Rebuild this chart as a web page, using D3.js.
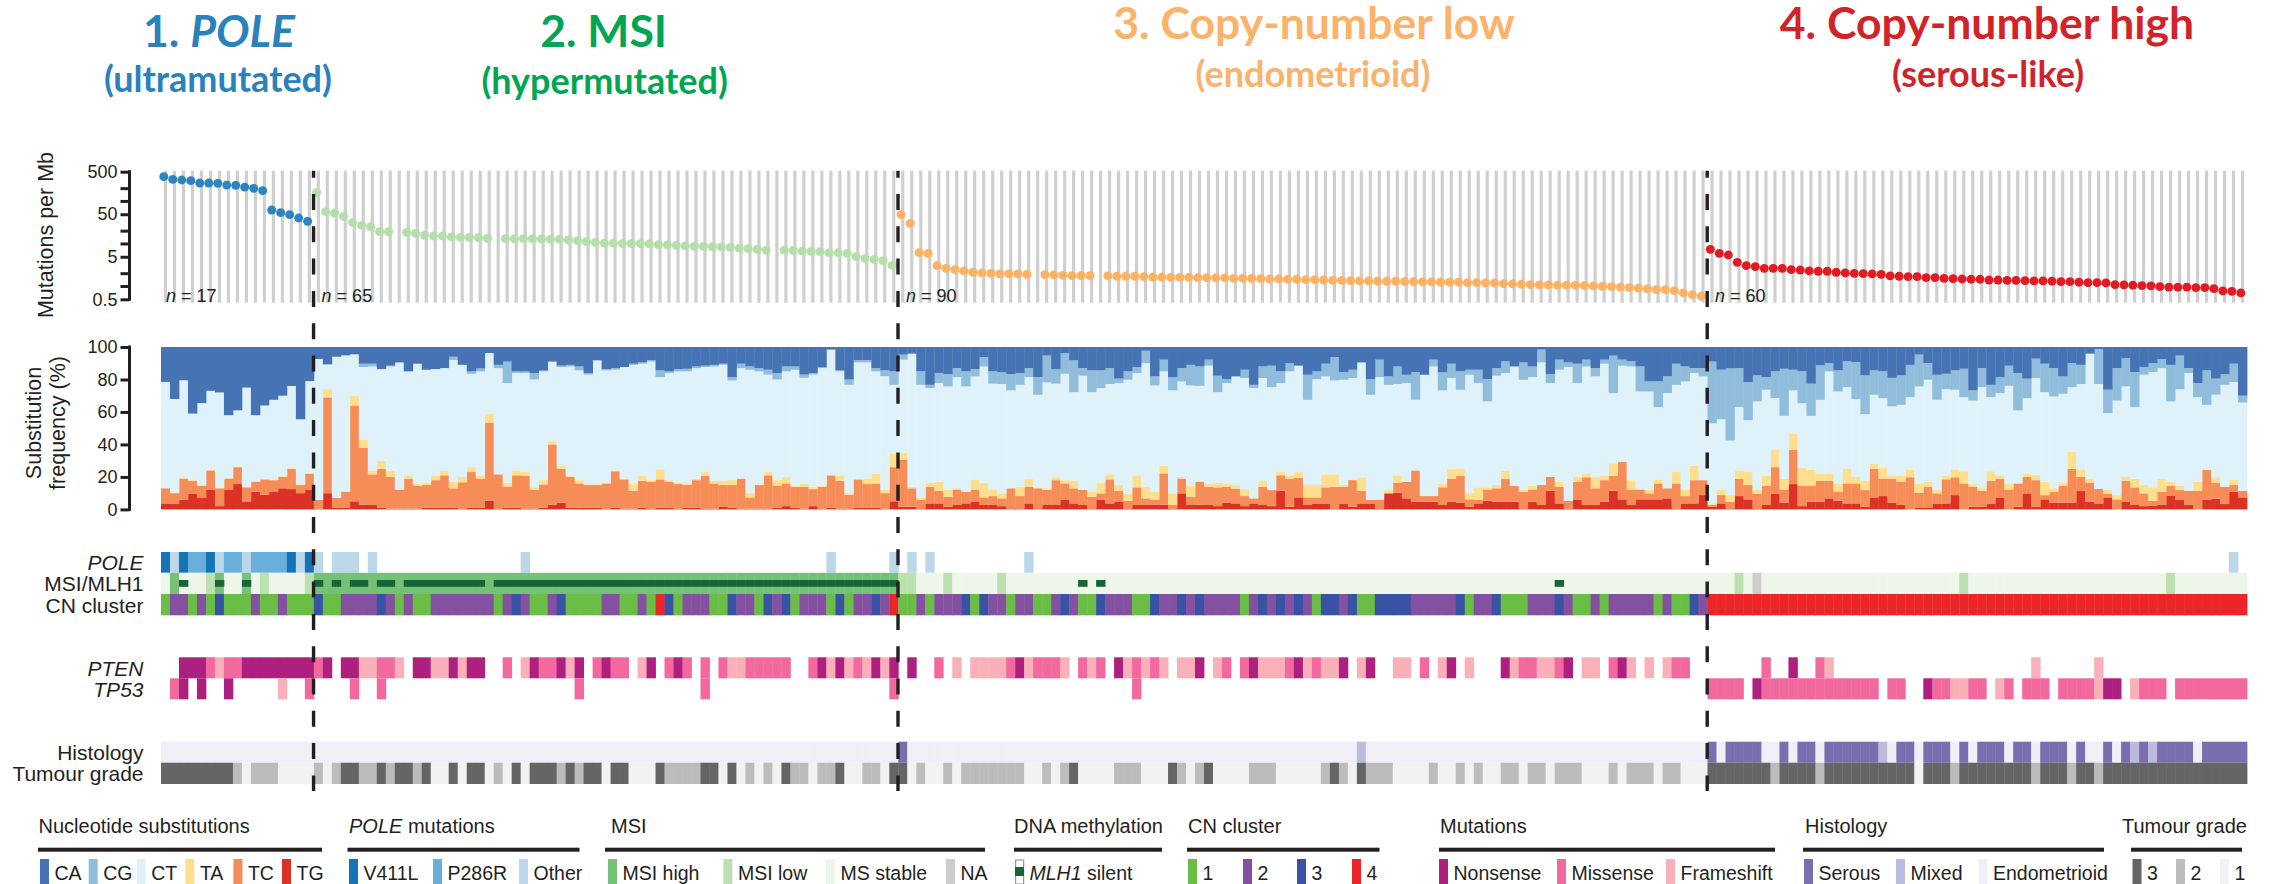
<!DOCTYPE html>
<html><head><meta charset="utf-8">
<script src="https://d3js.org/d3.v7.min.js"></script>
<style>html,body{margin:0;padding:0;background:#fff}svg{display:block}text{font-family:"Liberation Sans",Arial,sans-serif;fill:#231f20}</style>
</head><body><svg id="c" width="2274" height="884"></svg>
<script>
// ---------- data ----------
const groupNames=[["1. ","POLE"],["2. MSI",""],["3. Copy-number low",""],["4. Copy-number high",""]];
const groupSubs=["(ultramutated)","(hypermutated)","(endometrioid)","(serous-like)"];
const groupSizes=[17,65,90,60];
const mutPole=[381,330,319,307,271,271,266,243,239,218,203,179,62.8,54.4,48.9,40.8,34];
const mutMsi=[163.4,57.4,53.4,44.6,31.7,27.4,25.5,19.4,19.4,null,18.8,17.8,16,15.4,15.4,14.6,14.3,14.3,14.1,13.6,null,13.3,13.3,13.3,13.1,13.1,12.9,12.9,12.4,12,11.3,10.9,10.5,10.4,10.2,10.2,10.2,10,9.6,9.5,9.3,9,8.8,8.8,8.6,8.5,8.3,8,7.8,7.5,7.2,null,7.2,7.1,6.8,6.7,6.6,6.25,6.25,6,5.03,4.6,4.35,4.05,3.15];
const mutLow=[48.9,30.5,6.25,6,3.09,2.67,2.49,2.32,2.16,2.08,2.04,1.97,1.97,1.97,1.93,null,1.9,1.87,1.83,1.8,1.8,1.8,null,1.77,1.74,1.74,1.74,1.71,1.67,1.67,1.64,1.64,1.64,1.62,1.62,1.59,1.59,1.56,1.56,1.56,1.53,1.5,1.5,1.48,1.48,1.45,1.45,1.42,1.4,1.4,1.37,1.35,1.35,1.33,1.33,1.33,1.3,1.3,1.28,1.28,1.26,1.26,1.26,1.23,1.23,1.21,1.21,1.17,1.15,1.13,1.11,1.09,1.09,1.07,1.07,1.07,1.05,1.03,1.01,.99,.97,.94,.91,.875,.84,.84,.8,.705,.64,.59];
const mutHigh=[7.5,6,5.5,3.7,3.09,2.93,2.67,2.67,2.67,2.49,2.44,2.32,2.28,2.28,2.16,2.08,2.04,2,1.97,1.93,1.77,1.74,1.71,1.71,1.62,1.62,1.56,1.53,1.5,1.48,1.48,1.42,1.42,1.4,1.4,1.37,1.35,1.35,1.33,1.3,1.3,1.26,1.23,1.23,1.21,1.11,1.09,1.07,1.05,1.03,.99,.97,.97,.97,.94,.94,.89,.785,.77,.705];
// cumulative tops of the substitution stack, per sample, in percent
const topTG=[3.7,3.3,6,9.5,7,12,2,12,15.6,4.7,11,9,11,13,12.5,10,12,
.5,10,1,1,5,3,2.7,1,.5,.5,.5,.5,1,1,1,1,.5,1,1,5.5,.5,1,1,.5,.5,1,3,4,1,1,1,1,.5,1,.5,.5,1,.5,1,1,.5,1,1,.5,.5,1.5,1,.5,.5,.5,.5,1,2,1,.5,2,.5,1,.5,.5,1,1,1,.5,5,
1.6,1.6,.6,3.7,3.7,1.6,2.7,3.7,4.7,2.7,2.7,2,.6,.6,3.7,.6,2.7,2.7,5.8,3.7,2.7,.6,5.8,3.7,4.7,.6,2.7,2.7,3,3,.6,9.9,2.7,3,2.7,2,4,3.7,2,3.7,2.7,2,11.5,1.6,7.4,2.7,3.7,3.7,.6,3.3,1.6,3.7,3.7,.6,9.5,10.3,6.8,4.7,4.7,4.7,2.7,4.7,4,1.6,3.7,5.3,4.7,4.7,4.7,.6,4.7,2.7,11.5,3.7,.6,5.8,2.7,2.7,4.7,11.5,6.2,2.7,6.2,6.2,6.2,6.8,.6,3.7,3.7,8.8,
1.6,3.7,.6,8.2,6.2,.6,2.7,9.5,4,15.6,2,4.7,4.7,6.8,5.3,3.7,3.7,1.6,7.4,8.2,4,2.7,0,1.2,1.2,3.3,3.7,8.8,0,1.6,1.6,3.3,7.4,0,1.6,9.9,1.6,6.2,4,4,4,11.3,4.7,3.7,7.4,0,4.7,2.7,2,2.3,2.7,8.6,5.8,2.7,0,5.8,6.6,3.3,10.9,7.4];
const topTC=[13,10,19,17.7,14.6,24,13,19,26,13.6,17,18.5,18,20,25,15,22,
5.8,69,7,11,64,38,21.6,25,20,12,19,14.6,15,18,21,13,16.7,23,19,53.5,21.6,14,21,20.6,12,15.4,40,25,20,16,15,15,16,23.5,18.5,11.5,17.7,17,18.5,17,15.6,15,18,20.6,16,15,15,19,7.4,15,21,14.6,16,14,14,12.5,14,21,17.7,9,18.5,15.6,16,10,26,
30.5,13,6,14,11.5,7.8,12.3,10.9,12,7.4,8.2,6.8,13,8.2,14,13,12,18,16,13,12,7.8,9.9,18.5,11.5,5.3,13.6,6.8,5.8,22.2,2.7,19,7.8,17,14,13.6,14,12.7,8.2,6.8,14,11.9,21,19,19.5,7.4,7.4,13.6,14,14,18,11.5,6,6,10.3,16.5,17,24,8.2,8.2,13.6,19,20.6,6.2,6,12.3,13,19,14.4,10.9,12.3,15,20,14,5.3,17,19.8,13,18,20.6,29.4,12.3,12.3,9.9,16,13,16,8.2,18,18,
2.7,8.8,4.7,18.7,15,9.5,14.6,26,12.3,36.6,14.6,14.6,17.7,17.7,10.9,16,16,11.9,25,19,19,17,19.8,10.3,14,9.9,18.5,19.8,16,14,11.5,17.7,19,12.3,16,20,18,8.8,10.9,14.6,25,20,16.5,12.6,9.5,6.2,17.7,13.6,9.9,5.3,10.9,14.6,11.9,11.5,11.5,24.3,16.5,14,15,11.5];
const topTA=[13.5,10.5,19.5,18,15,24.5,13.5,19.5,26.5,14,17.5,19,18.5,20.5,25.5,15.5,22.5,
5.8,74,7,11,70,43,24,30,24,12.5,21,16,16.5,20.6,23.7,17,20,26,21,59,21.6,16.5,24,23,13.6,18,42,27,21,18,15.5,15.5,16.7,24,19,15.6,20.6,18,24.7,18,16.5,16,19,23,17.7,17.7,18,19,10,15.5,23,18,20,14.5,16,14,14.5,21,21,10,18.5,19,22,12,34.5,
35,14,7.4,16.5,17,12,13,10.9,18.5,16.5,12,9.5,13,14,19,13.6,13,19.8,18,17.7,12,10.9,16.5,21.6,15,9.9,21,14,10.9,27,9.9,20,14.6,17.7,16,16.5,16,15,12.5,6.8,17.7,11.9,23,21,23,15,15,21.6,21.6,15,18.5,19.8,6,6,12,21,17,24,8.2,8.2,16,25,25,10.3,13.6,13.6,15,23.7,14.4,12,14.4,15,20,17,5.3,20,22.2,20,21,28.4,29.4,18,12.3,12.3,18.5,13,23,12,27,18,
3.7,12.3,8.8,24,23,12.3,20.6,37,19,46.5,25.7,24.3,22.2,22.2,16,25,20,17.7,28,25.7,21,20.6,24.3,15.6,17,12.3,20.6,24.7,23.5,15.6,13,23.5,21,16,16,21.8,21.4,17,13,16.7,35.6,24.7,19,12.6,12.3,8.8,20,18.9,15,13.6,18.7,17,14.6,11.5,17,24.3,19.8,14,18.5,11.5];
const topCT=[78.5,68,79.5,59,65.5,73,72,58,61,75,58,64,67.5,70,76,55.5,79,
92.6,89,94,94.6,95.5,87.7,88,86.4,88,90.5,85,89.7,86,86.4,87,92,89,83.5,85,96.3,87,77.8,84,84,80,85,91,87.7,88,85.6,83,91.8,85.6,86,87.7,89,89.7,91,81.5,84,85,85,87,87.7,88,89,79.4,87,86,85,83,80,85,86,81,83,87,98.4,85,76.7,90.5,90.5,85,82,76.7,
92.2,95.9,76.7,74.7,77.8,75.7,81.5,75.7,81.9,88,77.4,77.2,73.3,76.7,81.5,70.6,78.2,77.4,83.5,72.2,82.3,72.2,74.7,77.2,77.8,79.8,84,90,76.3,85,73.3,78.8,76.3,76.1,88.5,72.2,77.8,81.9,80.9,74.7,80.9,75.3,77.8,85,88.5,67.5,80.2,81.9,79.4,79.8,80.9,90.5,70.6,81.5,76.7,77.2,77.8,67.5,82.9,88,73.3,80.9,73.7,82.9,77.8,66.5,82.3,84,88,79.8,81.5,90.5,77.8,86,87.7,77.8,88,81.9,89.7,71.6,88.5,88,72.6,72.6,63,71.6,76.7,78.8,84,81.9,
53,55.5,42.4,63,55,66.5,73.7,68.5,57.6,73.3,65.4,57.6,67.5,85,72.6,75.3,67.9,58.6,70.6,68.5,63.4,64.4,69.1,75.7,79.8,67.5,74,73.7,69.1,67,75.3,69.1,71.6,76.1,60.9,68.5,80.9,72.2,69.5,71.2,75.3,77.2,95.9,77.2,59.3,67,75.7,63,82.9,84.6,87,66.5,74,84,69.1,64.4,70.6,76.7,78.4,65.8];
const topCG=[78.5,68,79.5,59,65.5,73,72,58,61,75,58,64,67.5,70,76,55.5,79,
92.6,89.5,94,95,95.5,89.7,89.7,86.4,88.5,90.5,85,89.7,86,86.4,87,94,89,85,86.8,96.3,89,91,85,85,84,85.5,91,88.5,89,88,84,91.8,86.4,87,87.7,89.7,90.5,92,85.6,85,86.4,86.6,88,88.5,89,89.7,81.5,89.7,88,87,86,84,88,88,83,84,87.5,98.4,85.6,80,92,92,87,85.6,85,
95.3,95.9,85,76.7,84,83.3,87,85,86.4,93.8,85,84.4,83.3,84,87,81.5,94.7,86.4,96.3,91.8,87,85.6,85.6,87,80.5,85,87.7,97.7,81.9,92.2,81.3,87,89,88,92.2,82.3,80.2,81.9,86,76.7,88,88.5,85,90.1,88.5,82.9,85,89.7,93.8,84.6,86,90.5,80.2,92.2,81.9,88,82.9,84.6,82.9,92.2,84.4,89.7,85,86,86,80.2,87,91.2,88,90.5,88,98.4,83.3,92.2,90.5,89.7,92.2,87,92.2,94.7,92.2,91.2,88,78.8,78.8,81.9,89.7,88,87,87,
91,86,86.8,87,78.4,82.5,81.5,85,86.6,86,85,77.4,88.7,90.1,85.6,91.2,90.7,82.5,85.6,85,81,82.5,89,95.3,90.1,82.9,83.5,85.6,86.6,73.3,87,76.7,81.5,88.5,84,80.5,92.8,89.7,87,81.9,90.1,89,95.9,98.8,73.7,87,93.2,84.6,87.7,90.1,92.6,89,94.7,87,77.8,85.6,80.5,83.3,89.7,70];
// per-sample category rows, run-length coded (code, or code*count); "-" is no call
const rowPole="V O V P*2 V O P*2 O P*4 V O V O - O*3 - O -*16 O -*33 O -*6 O - O - O -*10 O -*133 O -";
const rowMsi="S H S*3 L H S*2 H S L S*4 L H*65 L*2 S*3 L S*5 L S*81 L S N S*22 L S*22 L S*8";
const rowMlh1="-*2 M -*3 M -*2 M -*7 M - M -  M*2 - M*2 - M*9 - M*45 -*20 M - M -*50 M -*76";
const rowCn="1 2*2 1 2 1 3 1*3 2 1*2 2 1*3 3 1*2 2*4 3 2 1 2 1*2 2*7 1 2 3 2 1*2 2 3 1*4 2*2 1*2 2 1 4 3 1 2*3 1*2 3 2*2 1 3 2 3 1 2*3 1 3 1 2*2 3 2 4 1*2 2 1 2*3 3 1 3 2*2 1 2*2 1*2 2 3 2 1*2 3 2*3 1*2 3 2*2 3 2 3 2*4 1 2 3 2 3 2 3 2 1 3*2 2 3 1*2 3*4 2*5 3 1 2*2 3 1*3 2*3 3 2 1*2 2 1 2*5 1 2 1*2 3 2 4*60";
const rowPten="-*2 N*3 M F M*2 N*8 M N - N*2 F*2 M*2 F - N*2 F*2 N F N*2 -*2 M - F N M*2 N F N - M N M*2 - F N - M N M - M - M F*2 M*5 -*2 M N F N F M F N F N - N -*2 M - F - F*4 M N F M*3 F - M F M - N F M F M F - F*2 N - F M - M N F*3 M N F M F*2 N - F N -*2 F*2 - M - F N - F -*3 N F M*2 F*2 M N - F*2 - M N F - F - F M*2 -*2 -*6 M -*2 N -*2 M F -*22 F -*6 F -*16";
const rowTp53="- M N - N -*2 N -*5 F -*2 M -*4 M -*2 M -*21 M -*13 M -*20 M -*26 M -*63 M*4 - N M*13 - M*2 -*2 N M*2 F*2 M*2 - F M - M*3 - M*4 F N*2 - F M*3 - M*8";
const rowHistology="E*82 S E*50 X E*38 S E S*4 E*2 S E S*2 E S*6 X E S*2 E S*3 E S E S*3 E S*2 E S*3 E S E*2 S E S X S X S*4 E S*5";
const rowGrade="3*8 2 1 2*3 1*4 2 1 2 3*2 2*2 3 2 3*2 2 3 1*2 3 1 3*2 1 2 1 3 1 3*3 2 3 2 3*2 1 3*2 1*3 3 2*4 3*2 1 3 1 2 1 2 1 3 2*2 1 2*2 3 1*2 2*2 1 3 3 1 2 1*2 2 1 2*7 1*2 2 1 2 3 1*4 2*3 1*3 3 2 1 2 3 1*4 2*3 1*5 2 3 2 1 3 2*3 1*4 2 1*2 2 1 2 1*2 2*2 1 2*2 1 2*3 1*3 2 1 2*3 1 2*2 1*3 3*7 2 3*4 2 3*10 1 3*3 2 3*8 2 3*3 2 3*2 2 3*16";
const axisTicksMut=[500,50,5,0.5];
const axisMinorMut=[200,100,20,10,2,1];
const axisTicksSub=[0,20,40,60,80,100];
const rowLabels=["POLE","MSI/MLH1","CN cluster","PTEN","TP53","Histology","Tumour grade"];
const legendTitles=["Nucleotide substitutions","POLE mutations","MSI","DNA methylation","CN cluster","Mutations","Histology","Tumour grade"];
const legendItems=[["CA","CG","CT","TA","TC","TG"],["V411L","P286R","Other"],["MSI high","MSI low","MS stable","NA"],["MLH1 silent"],["1","2","3","4"],["Nonsense","Missense","Frameshift"],["Serous","Mixed","Endometrioid"],["3","2","1"]];

// ---------- styles & layout ----------
const nSamples=d3.sum(groupSizes);
const groupStart=d3.cumsum([0,...groupSizes]);
const groupColor=["#2c85bf","#b4dfaa","#fdb163","#e21b22"];
const titleColor=["#2a82bd","#00a651","#fbb26a","#d2232a"];
const stackColor={TG:"#dc3125",TC:"#f68d59",TA:"#fddf8e",CT:"#dff2f9",CG:"#90bddb",CA:"#4673b3"};
const poleColor={V:"#1673b8",P:"#6aaedb",O:"#bcd7ea"};
const msiColor={H:"#75c178",L:"#bde0b0",S:"#eef6ea",N:"#cecdcb"};
const cnColor={1:"#6abd45",2:"#83519f",3:"#3953a4",4:"#ec2628"};
const mutColor={N:"#ae2080",M:"#f1699f",F:"#f9b0b8"};
const histColor={S:"#786eb0",X:"#bbbbdd",E:"#f0eff8"};
const gradeColor={3:"#656565",2:"#bcbcbc",1:"#f2f2f2"};
const legendColors=[[stackColor.CA,stackColor.CG,stackColor.CT,stackColor.TA,stackColor.TC,stackColor.TG],[poleColor.V,poleColor.P,poleColor.O],[msiColor.H,msiColor.L,msiColor.S,msiColor.N],[null],[cnColor[1],cnColor[2],cnColor[3],cnColor[4]],[mutColor.N,mutColor.M,mutColor.F],[histColor.S,histColor.X,histColor.E],[gradeColor[3],gradeColor[2],gradeColor[1]]];
const legendRule=[[38,322],[347.5,579.5],[605,985],[1014,1162],[1187,1379.5],[1439,1775],[1803,2104],[2131,2242]];
const legendTitleX=[38.5,349,611,1014,1188,1440,1805,2122];
const legendSwatch=[[40,88.7,136.7,185.4,233.4,282],[349,433,519],[608,723.4,826,946],[1015],[1188,1243,1297,1352],[1439,1557,1666],[1804,1896,1978.5],[2132.5,2176,2220]];
const FS=18;

const svg=d3.select("#c");
const x=d3.scaleBand().domain(d3.range(nSamples)).range([161,2247]);
const step=x.step();
const yMut=d3.scaleLog().domain([0.5,500]).range([299.3,171.7]);
const ySub=d3.scaleLinear().domain([0,100]).range([509.4,347]);
const expand=s=>s.trim().split(/\s+/).flatMap(t=>{const [c,n]=t.split("*");return d3.range(+(n||1)).map(()=>c)});

// titles
const titleCx=[219,603.6,1314,1987], titleY=[46.5,46.5,39,39];
const subCx=[218,604.6,1313,1988], subY=[91.5,94,87,87];
groupNames.forEach((g,i)=>{
  const t=svg.append("text").attr("x",titleCx[i]).attr("y",titleY[i]).attr("text-anchor","middle")
    .style("font-family","Lato").style("font-weight",700).style("font-size","44.5px").style("fill",titleColor[i]);
  t.append("tspan").text(g[0]);
  if(g[1]) t.append("tspan").style("font-style","italic").text(g[1]);
  svg.append("text").attr("x",subCx[i]).attr("y",subY[i]).attr("text-anchor","middle")
    .style("font-family","Lato").style("font-weight",700).style("font-size","36px").style("fill",titleColor[i]).text(groupSubs[i]);
});

// stripes
svg.append("g").selectAll("rect").data(d3.range(nSamples)).join("rect")
  .attr("x",i=>x(i)+step/2-1.6).attr("width",3.2).attr("y",170.7).attr("height",132).attr("fill","#cfcfcf");

// dots
[mutPole,mutMsi,mutLow,mutHigh].forEach((arr,g)=>{
  svg.append("g").selectAll("ellipse").data(arr.map((v,k)=>({v,i:groupStart[g]+k})).filter(d=>d.v!=null)).join("ellipse")
    .attr("cx",d=>x(d.i)+step/2-1.7).attr("cy",d=>yMut(d.v)).attr("rx",4.5).attr("ry",4.4).attr("fill",groupColor[g]);
});

// axes
function axis(scale,major,minor,fmt){
  const g=svg.append("g").attr("transform","translate(129.5,0)");
  const ax=d3.axisLeft(scale).tickValues(major).tickFormat(fmt).tickSize(9).tickPadding(3);
  g.call(ax);
  g.selectAll("text").style("font-size",FS+"px").style("fill","#231f20");
  g.selectAll("path,line").attr("stroke","#231f20").attr("stroke-width",3);
  g.select(".domain").attr("d",`M0,${scale.range()[0]+1.5}V${scale.range()[1]-1.5}`);
  g.selectAll(".minor").data(minor).join("line").attr("class","minor")
    .attr("x1",-9).attr("x2",0).attr("y1",scale).attr("y2",scale).attr("stroke","#231f20").attr("stroke-width",3);
  g.attr("font-family",null);
}
axis(yMut,axisTicksMut,axisMinorMut,d=>d);
axis(ySub,axisTicksSub,[],d=>d);

// axis labels
svg.append("text").attr("transform","translate(53,235) rotate(-90)").attr("text-anchor","middle").style("font-size","21.5px").text("Mutations per Mb");
svg.append("text").attr("transform","translate(41,423) rotate(-90)").attr("text-anchor","middle").style("font-size","21.5px").text("Substitution");
svg.append("text").attr("transform","translate(65,423) rotate(-90)").attr("text-anchor","middle").style("font-size","21.5px").text("frequency (%)");

// n labels
groupSizes.forEach((n,g)=>{
  const lx=[166,321.6,906,1715][g];
  const t=svg.append("text").attr("x",lx).attr("y",302).style("font-size",FS+"px");
  t.append("tspan").style("font-style","italic").text("n");
  t.append("tspan").text(" = "+n);
});

// substitution stack
const layers=[["TG",topTG],["TC",topTC],["TA",topTA],["CT",topCT],["CG",topCG],["CA",topCG.map(()=>100)]];
layers.forEach(([name,tops],l)=>{
  const prev=l?layers[l-1][1]:null;
  svg.append("g").selectAll("rect").data(tops.map((t,i)=>({i,t,b:prev?prev[i]:0}))).join("rect")
    .attr("x",d=>x(d.i)).attr("width",step+.4)
    .attr("y",d=>ySub(d.t)).attr("height",d=>Math.max(0,ySub(d.b)-ySub(d.t)))
    .attr("fill",stackColor[name]);
});

// category rows
function row(str,cmap,y0,h){
  svg.append("g").selectAll("rect").data(expand(str).map((c,i)=>({c,i})).filter(d=>cmap[d.c])).join("rect")
    .attr("x",d=>x(d.i)).attr("width",step+.4).attr("y",y0).attr("height",h).attr("fill",d=>cmap[d.c]);
}
row(rowPole,poleColor,552,20.8);
row(rowMsi,msiColor,572.8,21.2);
row(rowCn,cnColor,594,21.3);
row(rowMlh1,{M:"#176536"},580,6.8);
row(rowPten,mutColor,657.3,21);
row(rowTp53,mutColor,678.3,21);
row(rowHistology,histColor,741.7,21);
row(rowGrade,gradeColor,762.7,21.3);

// row labels
const rowY=[562.5,583.5,605,668,689,752,773.5];
const rowItalic=[true,false,false,true,true,false,false];
rowLabels.forEach((s,i)=>{
  svg.append("text").attr("x",143.5).attr("y",rowY[i]).attr("dy","0.36em").attr("text-anchor","end")
    .style("font-size","21px").style("font-style",rowItalic[i]?"italic":"normal").text(s);
});

// group boundaries
groupStart.slice(1,4).forEach(s=>{
  svg.append("line").attr("x1",x(s)-.3).attr("x2",x(s)-.3).attr("y1",170.7).attr("y2",791)
    .attr("stroke","#231f20").attr("stroke-width",3.4).attr("stroke-dasharray","16 16.3").attr("stroke-dashoffset",9);
});

// legends
legendTitles.forEach((title,i)=>{
  const [a,b]=legendRule[i];
  const t=svg.append("text").attr("x",legendTitleX[i]).attr("y",833).style("font-size","20px");
  if(title.startsWith("POLE")){t.append("tspan").style("font-style","italic").text("POLE");t.append("tspan").text(" mutations");}
  else t.text(title);
  svg.append("rect").attr("x",a).attr("y",847.7).attr("width",b-a).attr("height",4).attr("fill","#231f20");
  legendItems[i].forEach((lab,k)=>{
    const sx=legendSwatch[i][k], col=legendColors[i][k];
    if(col) svg.append("rect").attr("x",sx).attr("y",859).attr("width",9).attr("height",25).attr("fill",col);
    else{
      svg.append("rect").attr("x",sx+.6).attr("y",860).attr("width",8).attr("height",24).attr("fill","#fff").attr("stroke","#999").attr("stroke-width",1.2);
      svg.append("rect").attr("x",sx).attr("y",867).attr("width",9).attr("height",9).attr("fill","#176536");
    }
    const lt=svg.append("text").attr("x",sx+14.5).attr("y",880).style("font-size","19.5px");
    if(lab.startsWith("MLH1")){lt.append("tspan").style("font-style","italic").text("MLH1");lt.append("tspan").text(" silent");}
    else lt.text(lab);
  });
});
</script></body></html>
